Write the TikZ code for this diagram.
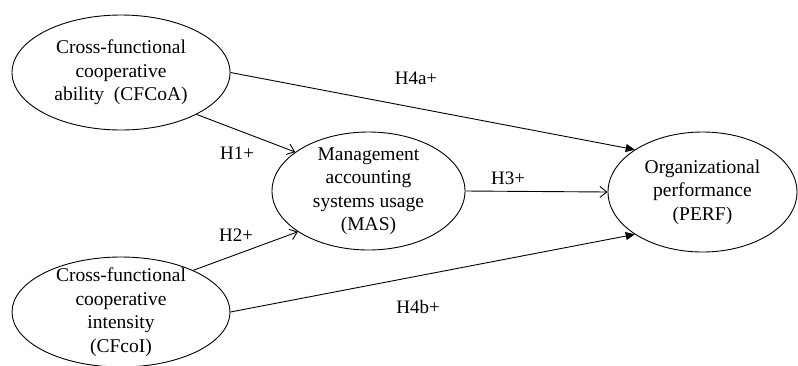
\documentclass[tikz,border=0pt]{standalone}
\usepackage{fontspec}
\setmainfont{Liberation Serif}
\usetikzlibrary{shapes.geometric,arrows.meta}

\begin{document}
\begin{tikzpicture}[
					x=1pt, y=-1pt,
					construct/.style={ellipse, draw=black, line width=0.9pt, inner sep=-8pt,
						align=center, font=\fontsize{19.5}{23.5}\selectfont},
					hyp/.style={inner sep=0pt, font=\fontsize{19}{23}\selectfont},
					link/.style={line width=0.9pt, -{Straight Barb[length=7pt,width=11pt]}},
					direct/.style={line width=0.9pt, -{Triangle[length=9pt,width=8pt]}}
					]
					\useasboundingbox (0,0) rectangle (798,365);
					\node[construct, minimum width=218pt, minimum height=115pt] (CFCoA) at (121,72.5) {Cross-functional\\cooperative\\ability~ (CFCoA)};
					\node[construct, minimum width=218pt, minimum height=110pt] (CFcoI) at (121,312) {Cross-functional\\cooperative\\intensity\\(CFcoI)};
					\node[construct, minimum width=193pt, minimum height=118pt] (MAS) at (368.5,191) {Management\\accounting\\systems usage\\(MAS)};
					\node[construct, minimum width=189pt, minimum height=120pt] (PERF) at (702.5,192) {Organizational\\performance\\(PERF)};
					\node[hyp] (H1) at (237,153) {H1+};
					\node[hyp] (H2) at (236,235) {H2+};
					\node[hyp] (H3) at (508,178) {H3+};
					\node[hyp] (H4a) at (416,78) {H4a+};
					\node[hyp] (H4b) at (418,307) {H4b+};
					\draw[link] (CFCoA.-29) -- (MAS.152);
					\draw[link] (CFcoI.30) -- (MAS.210);
					\draw[link] (MAS.east) -- (PERF.west);
					\draw[direct] (CFCoA.east) -- (PERF.148);
					\draw[direct] (CFcoI.east) -- (PERF.212);
				\end{tikzpicture}
\end{document}
